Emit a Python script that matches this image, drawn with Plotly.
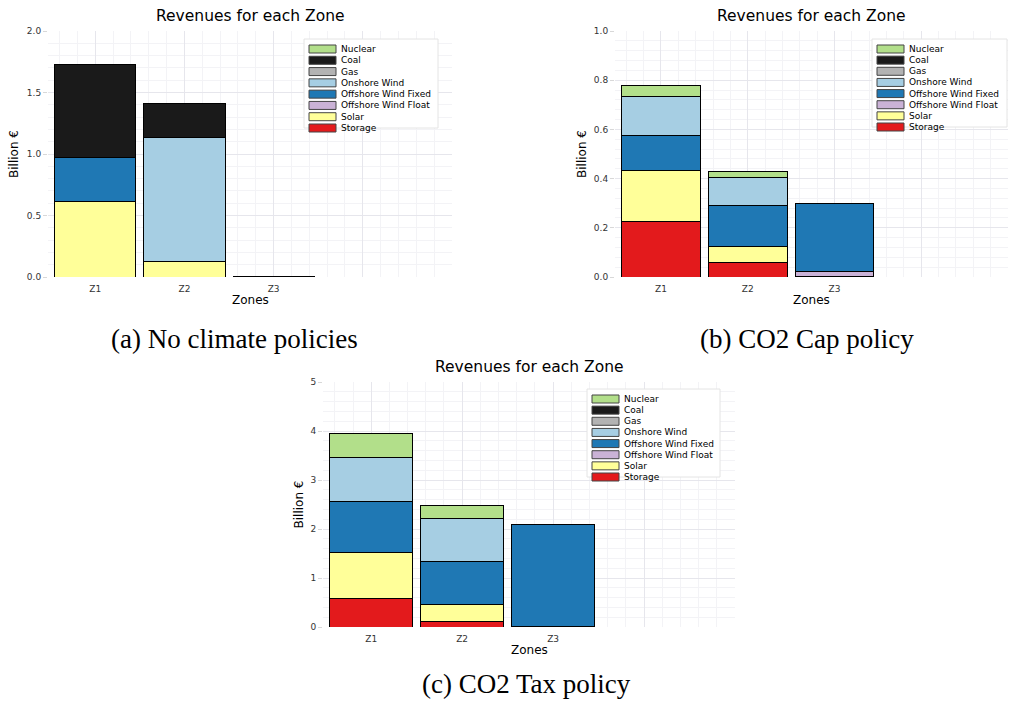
import plotly.graph_objects as go

W, H = 1009, 705

zones = ["Z1", "Z2", "Z3"]
techs = ["Nuclear", "Coal", "Gas", "Onshore Wind", "Offshore Wind Fixed",
         "Offshore Wind Float", "Solar", "Storage"]
tech_colors = ["#b2df8a", "#1a1a1a", "#b3b3b3", "#a6cee3", "#1f78b4",
               "#cab2d6", "#ffff99", "#e31a1c"]

# Revenues (billion EUR) per zone, per technology
no_policy = {
    "Nuclear": [0, 0, 0],
    "Coal": [0.760, 0.279, 0],
    "Gas": [0, 0, 0],
    "Onshore Wind": [0, 1.002, 0],
    "Offshore Wind Fixed": [0.358, 0, 0],
    "Offshore Wind Float": [0, 0, 0],
    "Solar": [0.611, 0.130, 0],
    "Storage": [0, 0, 0.006],
}
co2_cap = {
    "Nuclear": [0.044, 0.023, 0],
    "Coal": [0, 0, 0],
    "Gas": [0, 0, 0],
    "Onshore Wind": [0.160, 0.112, 0],
    "Offshore Wind Fixed": [0.142, 0.170, 0.275],
    "Offshore Wind Float": [0, 0, 0.021],
    "Solar": [0.205, 0.065, 0],
    "Storage": [0.227, 0.057, 0.003],
}
co2_tax = {
    "Nuclear": [0.470, 0.259, 0],
    "Coal": [0, 0, 0],
    "Gas": [0, 0, 0],
    "Onshore Wind": [0.904, 0.897, 0],
    "Offshore Wind Fixed": [1.048, 0.858, 2.085],
    "Offshore Wind Float": [0, 0, 0],
    "Solar": [0.939, 0.353, 0],
    "Storage": [0.578, 0.116, 0.012],
}

titles = ["Revenues for each Zone"] * 3
captions = ["(a) No climate policies", "(b) CO2 Cap policy", "(c) CO2 Tax policy"]

# panel layout in pixels: left, right, top, bottom
panels = [
    dict(data=no_policy, box=(48, 452, 31, 277), yr=2.0, dt=0.5, fmt=".1f",
         leg=(304, 438, 39, 128), cap=(234, 339), ylab_x=14),
    dict(data=co2_cap, box=(615, 1008, 31, 277), yr=1.0, dt=0.2, fmt=".1f",
         leg=(872, 1007, 39, 127), cap=(807, 339), ylab_x=582),
    dict(data=co2_tax, box=(323, 735, 382, 627), yr=5.0, dt=1.0, fmt="d",
         leg=(587, 720, 389, 477), cap=(526, 684), ylab_x=298),
]


def px(x):
    return x / W


def py(y):
    return 1 - y / H


fig = go.Figure()
layout = dict(width=W, height=H, margin=dict(l=0, r=0, t=0, b=0, pad=0),
              paper_bgcolor="white", plot_bgcolor="white", barmode="stack",
              showlegend=False, bargap=0.09,
              font=dict(family="DejaVu Sans", color="#222"))
annotations = []
shapes = []
xpos = list(range(len(zones)))
stack_order = list(reversed(techs))

for i, p in enumerate(panels):
    sfx = "" if i == 0 else str(i + 1)
    l, r, t, b = p["box"]
    for tech in stack_order:
        vals = [v if v else None for v in p["data"][tech]]
        fig.add_trace(go.Bar(
            x=xpos, y=vals, name=tech,
            marker=dict(color=tech_colors[techs.index(tech)],
                        line=dict(color="black", width=1)),
            width=0.91, xaxis="x" + sfx, yaxis="y" + sfx, showlegend=False))
    layout["xaxis" + sfx] = dict(
        domain=[px(l), px(r)], anchor="y" + sfx, range=[-0.53, 4.0],
        automargin=False,
        tickmode="array", tickvals=[0, 1, 2, 3, 4], ticktext=zones + ["", ""],
        showgrid=True, gridcolor="#e6e6ec", gridwidth=1, zeroline=False,
        ticks="outside", ticklen=3, tickcolor="rgba(0,0,0,0)",
        tickfont=dict(size=9, color="#333"),
        minor=dict(dtick=0.2, tick0=0, showgrid=True, gridcolor="#f3f3f6"),
        showline=False, fixedrange=True)
    layout["yaxis" + sfx] = dict(
        domain=[py(b), py(t)], anchor="x" + sfx, range=[0, p["yr"]],
        automargin=False,
        dtick=p["dt"], tick0=0, tickformat=p["fmt"],
        showgrid=True, gridcolor="#e6e6ec", zeroline=False,
        ticks="outside", ticklen=4, tickcolor="#d8d8d8",
        tickfont=dict(size=9, color="#333"),
        minor=dict(dtick=p["dt"] / 5, showgrid=True, gridcolor="#f3f3f6"),
        showline=False, fixedrange=True)
    cx = (l + r) / 2
    annotations.append(dict(x=px(cx), y=py(t - 15), xref="paper", yref="paper",
                            text=titles[i], showarrow=False,
                            font=dict(size=15.5, color="black"),
                            xanchor="center", yanchor="middle"))
    annotations.append(dict(x=px(cx), y=py(b + 23), xref="paper", yref="paper",
                            text="Zones", showarrow=False,
                            font=dict(size=12, color="black"),
                            xanchor="center", yanchor="middle"))
    annotations.append(dict(x=px(p["ylab_x"]), y=py((t + b) / 2), xref="paper",
                            yref="paper", text="Billion €", showarrow=False,
                            textangle=-90, font=dict(size=12, color="black"),
                            xanchor="center", yanchor="middle"))
    annotations.append(dict(x=px(p["cap"][0]), y=py(p["cap"][1]), xref="paper",
                            yref="paper", text=captions[i], showarrow=False,
                            font=dict(size=27, color="black",
                                      family="Liberation Serif"),
                            xanchor="center", yanchor="middle"))
    ll, lr, lt, lb = p["leg"]
    shapes.append(dict(type="rect", xref="paper", yref="paper",
                       x0=px(ll), x1=px(lr), y0=py(lb), y1=py(lt),
                       fillcolor="white", line=dict(color="#e4e4e4", width=1),
                       layer="above"))
    step = (lb - lt - 10) / (len(techs) - 1)
    for k, tech in enumerate(techs):
        yc = lt + 10 + k * step
        shapes.append(dict(type="rect", xref="paper", yref="paper",
                           x0=px(ll + 5), x1=px(ll + 32),
                           y0=py(yc + 4), y1=py(yc - 4),
                           fillcolor=tech_colors[k],
                           line=dict(color="#444", width=1), layer="above"))
        annotations.append(dict(x=px(ll + 35), y=py(yc), xref="paper",
                                yref="paper", text=tech, showarrow=False,
                                font=dict(size=9, color="black"),
                                xanchor="left", yanchor="middle"))

layout["annotations"] = annotations
layout["shapes"] = shapes
fig.update_layout(**layout)
fig.write_html("out.html",
               config={"displayModeBar": False},
               post_script="document.body.style.margin='0';"
                           "document.body.style.overflow='hidden';")
